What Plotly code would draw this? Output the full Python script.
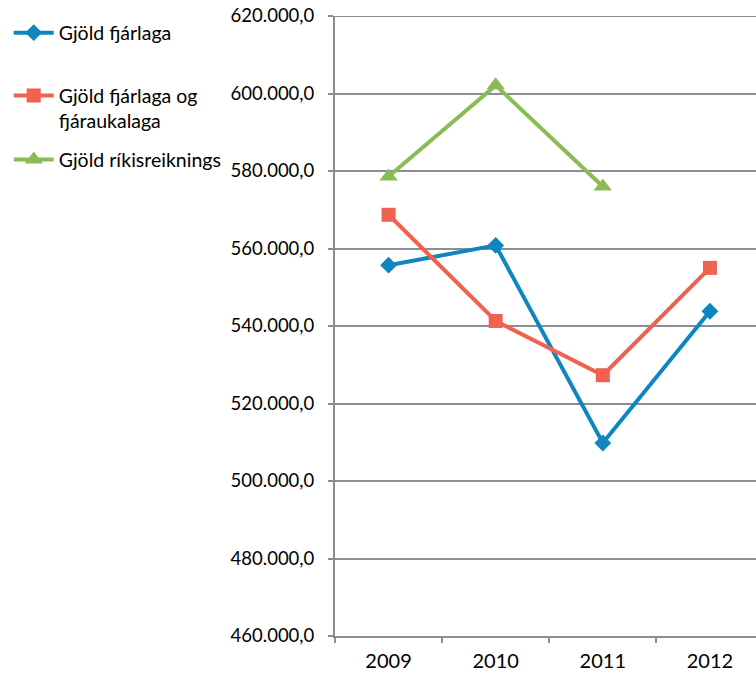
import plotly.graph_objects as go

years = ["2009", "2010", "2011", "2012"]
fjarlaga = [555700, 560800, 509800, 543800]
fjaraukalaga = [568700, 541300, 527300, 555000]
rikisreiknings = [578600, 602100, 576000, None]
y_ticks = [460000, 480000, 500000, 520000, 540000, 560000, 580000, 600000, 620000]

names = ["Gjöld fjárlaga", "Gjöld fjárlaga og<br>fjáraukalaga", "Gjöld ríkisreiknings"]
colors = ["#0F86BF", "#F0614F", "#8BBB55"]
symbols = ["diamond", "square", "triangle-up"]
sizes = [13, 14, 16]
series = [fjarlaga, fjaraukalaga, rikisreiknings]
legends = ["legend", "legend2", "legend3"]

FONT = "Lato"
fig = go.Figure()
for vals, name, col, sym, sz, lg in zip(series, names, colors, symbols, sizes, legends):
    fig.add_trace(go.Scatter(
        x=years, y=vals, name=name, mode="lines+markers",
        line=dict(color=col, width=4),
        marker=dict(symbol=sym, size=sz, color=col),
        legend=lg, connectgaps=False, showlegend=True,
    ))

leg_common = dict(font=dict(family=FONT, size=19.5, color="#000000"), bgcolor="rgba(0,0,0,0)",
                  xanchor="left", yanchor="middle", x=-0.775, valign="top", itemwidth=40)

fig.update_layout(
    width=756, height=673,
    showlegend=True,
    margin=dict(l=335, r=0, t=16, b=37),
    paper_bgcolor="white", plot_bgcolor="white",
    separators=",.",
    font=dict(family=FONT, size=18, color="#000000"),
    legend=dict(**leg_common, y=0.9726),
    legend2=dict(**leg_common, y=0.851),
    legend3=dict(**leg_common, y=0.768),
    xaxis=dict(
        type="category", range=[-0.5, 3.43],
        showline=True, linecolor="#868E96", linewidth=2,
        ticks="outside", ticklen=5, tickcolor="#868E96", tickwidth=2,
        tickson="boundaries", showgrid=False, automargin=False,
        ticklabelstandoff=6,
        tickfont=dict(family=FONT, size=20, color="#000000"),
    ),
    yaxis=dict(
        range=[460000, 620000], tickmode="array", tickvals=y_ticks,
        tickformat=",.1f", automargin=False,
        showline=True, linecolor="#868E96", linewidth=2,
        ticks="outside", ticklen=5, tickcolor="#868E96", tickwidth=2,
        showgrid=True, gridcolor="#868E96", gridwidth=1.5,
        zeroline=False, ticklabelstandoff=10,
        tickfont=dict(family=FONT, size=18.5, color="#000000"),
    ),
)
fig.add_shape(type="line", xref="paper", yref="y", x0=0, x1=1, y0=620000, y1=620000,
              line=dict(color="#868E96", width=2), layer="below")

fig.write_html("out.html", config={"displayModeBar": False},
               post_script="document.body.style.margin='0px';")
